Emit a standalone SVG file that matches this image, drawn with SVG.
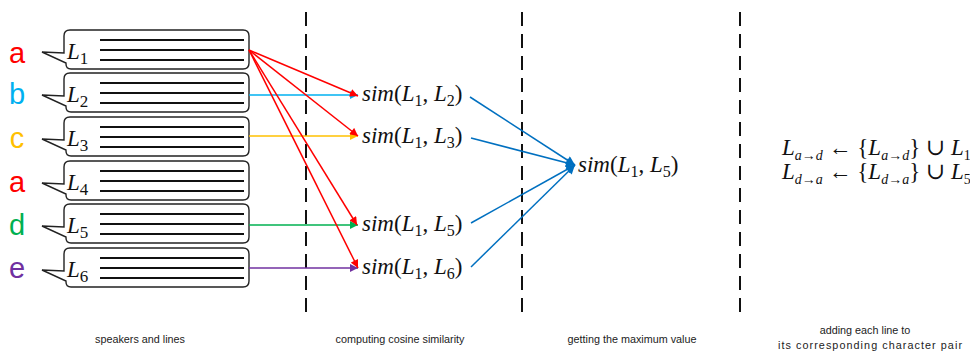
<svg xmlns="http://www.w3.org/2000/svg" width="970" height="351" viewBox="0 0 970 351">
<style>
.bub{fill:#fff;stroke:#222;stroke-width:1.4}
.ln{stroke:#111;stroke-width:1.8}
.spk{font-family:"Liberation Sans",Arial,sans-serif;font-size:29px;text-anchor:middle}
.m{font-family:"Liberation Serif","DejaVu Serif",serif;font-size:23px;fill:#111}
.it{font-style:italic}
.lab{font-family:"Liberation Sans",Arial,sans-serif;font-size:10.8px;fill:#222;text-anchor:middle}
.dash{stroke:#111;stroke-width:2;stroke-dasharray:14 8}
.c{fill:none;stroke-width:1.5}
</style>
<defs>
<marker id="aR" viewBox="0 0 10 10" refX="10" refY="5" markerWidth="9" markerHeight="8" markerUnits="userSpaceOnUse" orient="auto"><path d="M0,0 L10,5 L0,10 Z" fill="#FF0000"/></marker>
<marker id="aB" viewBox="0 0 10 10" refX="10" refY="5" markerWidth="9" markerHeight="8" markerUnits="userSpaceOnUse" orient="auto"><path d="M0,0 L10,5 L0,10 Z" fill="#00B0F0"/></marker>
<marker id="aO" viewBox="0 0 10 10" refX="10" refY="5" markerWidth="9" markerHeight="8" markerUnits="userSpaceOnUse" orient="auto"><path d="M0,0 L10,5 L0,10 Z" fill="#FFC000"/></marker>
<marker id="aG" viewBox="0 0 10 10" refX="10" refY="5" markerWidth="9" markerHeight="8" markerUnits="userSpaceOnUse" orient="auto"><path d="M0,0 L10,5 L0,10 Z" fill="#00B050"/></marker>
<marker id="aP" viewBox="0 0 10 10" refX="10" refY="5" markerWidth="9" markerHeight="8" markerUnits="userSpaceOnUse" orient="auto"><path d="M0,0 L10,5 L0,10 Z" fill="#7030A0"/></marker>
<marker id="aD" viewBox="0 0 10 10" refX="10" refY="5" markerWidth="10" markerHeight="9" markerUnits="userSpaceOnUse" orient="auto"><path d="M0,0 L10,5 L0,10 Z" fill="#0070C0"/></marker>
<g id="bubble">
<path class="bub" d="M70,0 H243 Q249,0 249,6 V33 Q249,39 243,39 H71 Q66,39 66,34 V33 L42,22 L64,23 V6 Q64,0 70,0 Z"/>
<line class="ln" x1="100" y1="10" x2="244" y2="10"/>
<line class="ln" x1="100" y1="20" x2="244" y2="20"/>
<line class="ln" x1="100" y1="30" x2="244" y2="30"/>
</g>
</defs>
<g id="dividers">
<line class="dash" x1="306" y1="12" x2="306" y2="320"/>
<line class="dash" x1="522" y1="12" x2="522" y2="320"/>
<line class="dash" x1="740" y1="12" x2="740" y2="320"/>
</g>
<g id="n1"><text class="spk" x="17" y="63" fill="#FF0000">a</text><use href="#bubble" y="30"/><text class="m it" x="67" y="59" font-size="24">L<tspan font-style="normal" font-size="17" dy="5">1</tspan></text></g>
<g id="n2"><text class="spk" x="17" y="104" fill="#00B0F0">b</text><use href="#bubble" y="73"/><text class="m it" x="67" y="102" font-size="24">L<tspan font-style="normal" font-size="17" dy="5">2</tspan></text></g>
<g id="n3"><text class="spk" x="17" y="148" fill="#FFC000">c</text><use href="#bubble" y="117"/><text class="m it" x="67" y="146" font-size="24">L<tspan font-style="normal" font-size="17" dy="5">3</tspan></text></g>
<g id="n4"><text class="spk" x="17" y="192" fill="#FF0000">a</text><use href="#bubble" y="161"/><text class="m it" x="67" y="190" font-size="24">L<tspan font-style="normal" font-size="17" dy="5">4</tspan></text></g>
<g id="n5"><text class="spk" x="17" y="235" fill="#00B050">d</text><use href="#bubble" y="204"/><text class="m it" x="67" y="233" font-size="24">L<tspan font-style="normal" font-size="17" dy="5">5</tspan></text></g>
<g id="n6"><text class="spk" x="17" y="278" fill="#7030A0">e</text><use href="#bubble" y="248"/><text class="m it" x="67" y="277" font-size="24">L<tspan font-style="normal" font-size="17" dy="5">6</tspan></text></g>
<g id="connectors">
<line class="c" stroke="#00B0F0" x1="249" y1="95" x2="358" y2="95" marker-end="url(#aB)"/>
<line class="c" stroke="#FFC000" x1="249" y1="136" x2="358" y2="136" marker-end="url(#aO)"/>
<line class="c" stroke="#00B050" x1="249" y1="225" x2="358" y2="225" marker-end="url(#aG)"/>
<line class="c" stroke="#7030A0" x1="249" y1="268" x2="358" y2="268" marker-end="url(#aP)"/>
<line class="c" stroke="#FF0000" x1="249" y1="50" x2="358" y2="96" marker-end="url(#aR)"/>
<line class="c" stroke="#FF0000" x1="249" y1="50" x2="358" y2="136" marker-end="url(#aR)"/>
<line class="c" stroke="#FF0000" x1="249" y1="50" x2="357" y2="225" marker-end="url(#aR)"/>
<line class="c" stroke="#FF0000" x1="249" y1="50" x2="358" y2="268" marker-end="url(#aR)"/>
<line class="c" stroke="#0070C0" x1="470" y1="97" x2="575" y2="165" marker-end="url(#aD)"/>
<line class="c" stroke="#0070C0" x1="471" y1="138" x2="575" y2="165" marker-end="url(#aD)"/>
<line class="c" stroke="#0070C0" x1="471" y1="223" x2="575" y2="165" marker-end="url(#aD)"/>
<line class="c" stroke="#0070C0" x1="471" y1="267" x2="575" y2="165" marker-end="url(#aD)"/>
</g>
<g id="s2"><text class="m" x="362" y="101"><tspan class="it">sim</tspan>(<tspan class="it">L</tspan><tspan font-size="16" dy="5">1</tspan><tspan dy="-5">, </tspan><tspan class="it">L</tspan><tspan font-size="16" dy="5">2</tspan><tspan dy="-5">)</tspan></text></g>
<g id="s3"><text class="m" x="362" y="143"><tspan class="it">sim</tspan>(<tspan class="it">L</tspan><tspan font-size="16" dy="5">1</tspan><tspan dy="-5">, </tspan><tspan class="it">L</tspan><tspan font-size="16" dy="5">3</tspan><tspan dy="-5">)</tspan></text></g>
<g id="s5"><text class="m" x="362" y="231"><tspan class="it">sim</tspan>(<tspan class="it">L</tspan><tspan font-size="16" dy="5">1</tspan><tspan dy="-5">, </tspan><tspan class="it">L</tspan><tspan font-size="16" dy="5">5</tspan><tspan dy="-5">)</tspan></text></g>
<g id="s6"><text class="m" x="362" y="274"><tspan class="it">sim</tspan>(<tspan class="it">L</tspan><tspan font-size="16" dy="5">1</tspan><tspan dy="-5">, </tspan><tspan class="it">L</tspan><tspan font-size="16" dy="5">6</tspan><tspan dy="-5">)</tspan></text></g>
<g id="max"><text class="m" x="578" y="172"><tspan class="it">sim</tspan>(<tspan class="it">L</tspan><tspan font-size="16" dy="5">1</tspan><tspan dy="-5">, </tspan><tspan class="it">L</tspan><tspan font-size="16" dy="5">5</tspan><tspan dy="-5">)</tspan></text></g>
<g id="update">
<text class="m" x="782" y="155" font-size="20"><tspan class="it">L</tspan><tspan class="it" font-size="14" dy="5">a</tspan><tspan font-size="14">→</tspan><tspan class="it" font-size="14">d</tspan><tspan dy="-5"> ← {</tspan><tspan class="it">L</tspan><tspan class="it" font-size="14" dy="5">a</tspan><tspan font-size="14">→</tspan><tspan class="it" font-size="14">d</tspan><tspan dy="-5">} ∪ </tspan><tspan class="it">L</tspan><tspan font-size="14" dy="5">1</tspan></text>
<text class="m" x="782" y="179" font-size="20"><tspan class="it">L</tspan><tspan class="it" font-size="14" dy="5">d</tspan><tspan font-size="14">→</tspan><tspan class="it" font-size="14">a</tspan><tspan dy="-5"> ← {</tspan><tspan class="it">L</tspan><tspan class="it" font-size="14" dy="5">d</tspan><tspan font-size="14">→</tspan><tspan class="it" font-size="14">a</tspan><tspan dy="-5">} ∪ </tspan><tspan class="it">L</tspan><tspan font-size="14" dy="5">5</tspan></text>
</g>
<g id="labels">
<text class="lab" x="140" y="343">speakers and lines</text>
<text class="lab" x="400" y="343">computing cosine similarity</text>
<text class="lab" x="632" y="343">getting the maximum value</text>
<text class="lab" x="865" y="334">adding each line to</text>
<text class="lab" x="778" y="349" style="text-anchor:start" textLength="184" lengthAdjust="spacing">its corresponding character pair</text>
</g>
</svg>
